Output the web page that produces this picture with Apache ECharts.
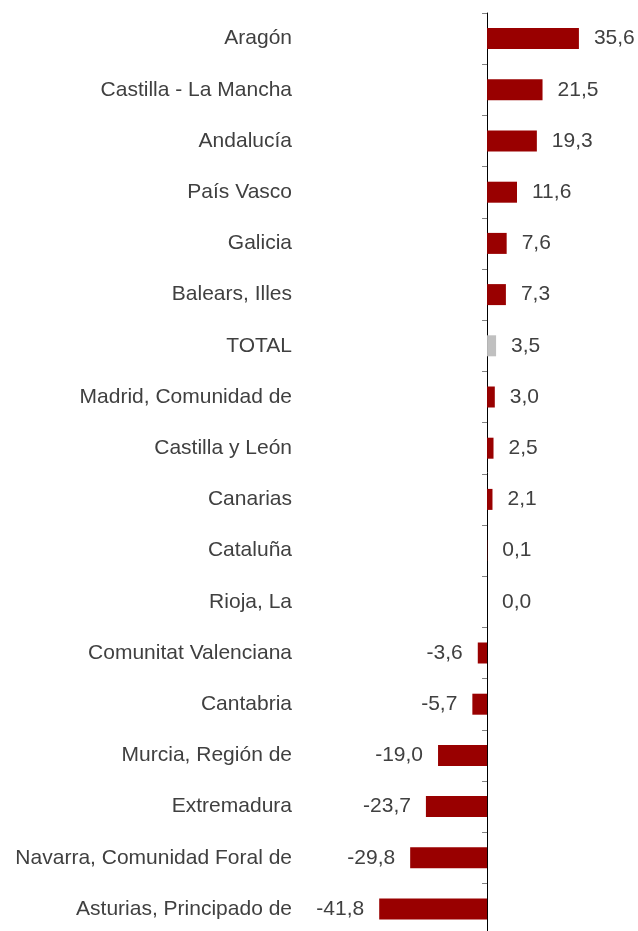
<!DOCTYPE html>
<html>
<head>
<meta charset="utf-8">
<script src="https://cdn.jsdelivr.net/npm/echarts@6/dist/echarts.min.js"></script>
<style>
html,body{margin:0;padding:0;background:#fff;}
#chart{width:638px;height:931px;}
</style>
</head>
<body>
<div id="chart"></div>
<script>
const categories = ["Aragón","Castilla - La Mancha","Andalucía","País Vasco","Galicia","Balears, Illes","TOTAL","Madrid, Comunidad de","Castilla y León","Canarias","Cataluña","Rioja, La","Comunitat Valenciana","Cantabria","Murcia, Región de","Extremadura","Navarra, Comunidad Foral de","Asturias, Principado de"];
const values = [35.6,21.5,19.3,11.6,7.6,7.3,3.5,3.0,2.5,2.1,0.1,0.0,-3.6,-5.7,-19.0,-23.7,-29.8,-41.8];
const highlight = "TOTAL";

const FONT = "Liberation Sans, Arial, sans-serif";
const chart = echarts.init(document.getElementById('chart'), null, {renderer:'canvas'});
const data = values.map((v,i)=>({
  value: v,
  itemStyle: {color: categories[i]===highlight ? '#c0c0c0' : '#990000'},
  label: {position: v < 0 ? 'left' : 'right'}
}));
chart.setOption({
  animation:false,
  backgroundColor:'#ffffff',
  grid:{left:300, top:13, width:338, height:921.6, containLabel:false, outerBoundsMode:'none'},
  xAxis:{type:'value', min:-72.5, max:58.5, show:false, splitLine:{show:false}},
  yAxis:{
    type:'category', data:categories, inverse:true,
    axisLine:{show:true, onZero:true, lineStyle:{color:'#000000', width:1}},
    axisTick:{show:true, inside:false, length:5, lineStyle:{color:'#808080'}},
    axisLabel:{margin:8, fontSize:21, fontFamily:FONT, color:'#404040', padding:[4,0,0,0]}
  },
  series:[{
    type:'bar', data:data, barWidth:21,
    label:{show:true, distance:15, fontSize:21, fontFamily:FONT, color:'#404040', padding:[4,0,0,0],
      formatter:p=>p.value.toFixed(1).replace('.',',')}
  }]
});
</script>
</body>
</html>
